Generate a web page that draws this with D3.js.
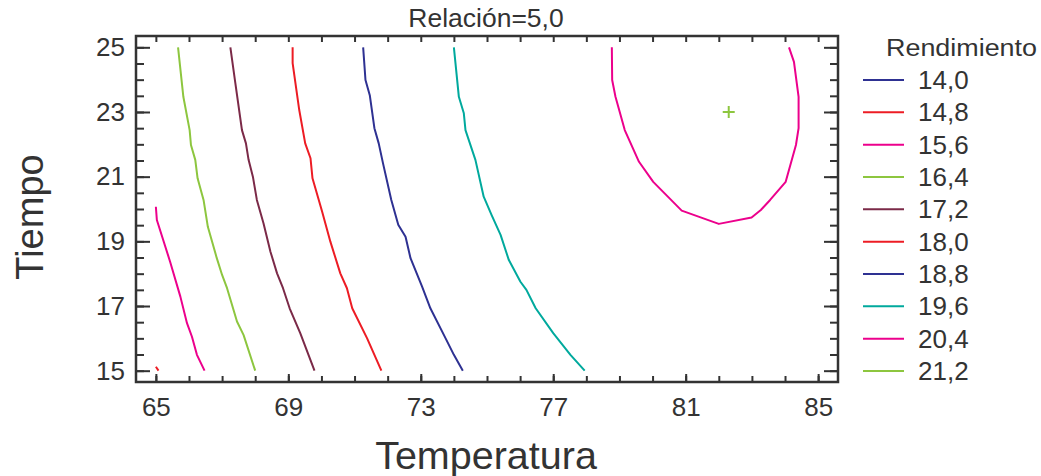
<!DOCTYPE html>
<html>
<head>
<meta charset="utf-8">
<script src="https://cdn.jsdelivr.net/npm/d3@7"></script>
<style>
  html, body { margin: 0; padding: 0; background: #fff; }
  svg { display: block; font-family: "Liberation Sans", Arial, Helvetica, sans-serif; }
</style>
</head>
<body>
<svg id="chart" width="1041" height="476"></svg>
<script>
// ---------- data ----------
const chartTitle = "Relación=5,0";
const xTitle = "Temperatura";
const yTitle = "Tiempo";
const legendTitle = "Rendimiento";

const levels = [14.0, 14.8, 15.6, 16.4, 17.2, 18.0, 18.8, 19.6, 20.4, 21.2];
const levelColors = ["#2e3192", "#ed1c24", "#ec008c", "#8dc63f", "#7b2a48",
                     "#ed1c24", "#2e3192", "#00a99d", "#ec008c", "#8dc63f"];

const xMajorTicks = [65, 69, 73, 77, 81, 85];
const yMajorTicks = [15, 17, 19, 21, 23, 25];

// contour lines (Temperatura, Tiempo)
const contour148 = [[65.0, 15.12], [65.08, 15.0]];
const contour156 = [[65.0, 20.07], [65.03, 19.66], [65.43, 18.37], [65.74, 17.29], [65.94, 16.47],
                    [66.09, 16.05], [66.24, 15.49], [66.47, 15.0]];
const contour164 = [[65.67, 25.0], [65.83, 23.47], [66.02, 22.44], [66.06, 21.98], [66.19, 21.52],
                    [66.26, 20.95], [66.44, 20.28], [66.57, 19.45], [66.84, 18.48], [67.0, 17.96],
                    [67.15, 17.55], [67.45, 16.52], [67.65, 16.10], [68.0, 15.0]];
const contour172 = [[67.25, 25.0], [67.40, 23.89], [67.60, 22.44], [67.72, 22.03], [67.80, 21.52],
                    [67.93, 21.0], [68.05, 20.28], [68.25, 19.56], [68.46, 18.68], [68.66, 18.01],
                    [68.84, 17.55], [69.04, 16.93], [69.36, 16.16], [69.79, 15.0]];
const contour180 = [[69.13, 25.0], [69.13, 24.51], [69.33, 23.06], [69.51, 22.03], [69.67, 21.57],
                    [69.73, 20.95], [69.92, 20.28], [70.02, 19.92], [70.27, 18.99], [70.57, 18.01],
                    [70.77, 17.55], [70.93, 16.93], [71.38, 16.0], [71.81, 15.0]];
const contour188 = [[71.26, 25.0], [71.33, 23.99], [71.46, 23.52], [71.60, 22.50], [71.73, 22.03],
                    [71.86, 21.41], [72.11, 20.28], [72.32, 19.51], [72.54, 19.14], [72.69, 18.48],
                    [73.04, 17.60], [73.29, 16.93], [73.75, 16.0], [74.0, 15.49], [74.27, 15.0]];
const contour196 = [[74.0, 25.0], [74.15, 23.47], [74.30, 22.96], [74.35, 22.44], [74.65, 21.52],
                    [74.90, 20.38], [75.14, 19.81], [75.41, 19.20], [75.66, 18.42], [76.01, 17.75],
                    [76.19, 17.50], [76.47, 16.93], [77.0, 16.16], [77.52, 15.49], [77.95, 15.0]];
const contour204 = [[78.77, 25.0], [78.78, 23.99], [78.88, 23.47], [79.16, 22.44], [79.59, 21.46],
                    [80.02, 20.84], [80.88, 19.95], [82.0, 19.54], [82.99, 19.74], [83.27, 19.97],
                    [83.55, 20.28], [84.02, 20.84], [84.33, 21.98], [84.41, 22.50], [84.41, 23.47],
                    [84.27, 24.55], [84.12, 25.0]];

const contours = [
  { level: 14.8, points: contour148 },
  { level: 15.6, points: contour156 },
  { level: 16.4, points: contour164 },
  { level: 17.2, points: contour172 },
  { level: 18.0, points: contour180 },
  { level: 18.8, points: contour188 },
  { level: 19.6, points: contour196 },
  { level: 20.4, points: contour204 }
];

const optimum = [82.3, 23.0];

// ---------- layout ----------
const svg = d3.select("#chart");
const plot = { left: 136, right: 838, top: 36, bottom: 382 };
const ink = "#333333";

const x = d3.scaleLinear().domain([64.4, 85.6]).range([plot.left, plot.right]);
const y = d3.scaleLinear().domain([14.65, 25.35]).range([plot.bottom, plot.top]);
const color = d3.scaleOrdinal().domain(levels).range(levelColors);

const esLocale = d3.formatLocale({ decimal: ",", thousands: ".", grouping: [3], currency: ["", " €"] });
const fmt1 = esLocale.format(".1f");

const xMinor = d3.range(65, 85.01, 1);
const yMinor = d3.range(15, 25.01, 0.5);

// clip
svg.append("defs").append("clipPath").attr("id", "clip")
  .append("rect").attr("x", plot.left).attr("y", plot.top)
  .attr("width", plot.right - plot.left).attr("height", plot.bottom - plot.top);

// contour lines
const line = d3.line().x(d => x(d[0])).y(d => y(d[1]));
svg.append("g").attr("clip-path", "url(#clip)")
  .selectAll("path").data(contours).join("path")
  .attr("d", d => line(d.points))
  .attr("fill", "none")
  .attr("stroke", d => color(d.level))
  .attr("stroke-width", 2)
  .attr("stroke-linejoin", "round");

// optimum marker
const mk = svg.append("g").attr("stroke", "#8dc63f").attr("stroke-width", 2);
mk.append("line").attr("x1", x(optimum[0]) - 6).attr("x2", x(optimum[0]) + 6)
  .attr("y1", y(optimum[1])).attr("y2", y(optimum[1]));
mk.append("line").attr("x1", x(optimum[0])).attr("x2", x(optimum[0]))
  .attr("y1", y(optimum[1]) - 6).attr("y2", y(optimum[1]) + 6);

// axes
function styleAxis(g) {
  g.select(".domain").remove();
  g.selectAll(".tick line").attr("stroke", ink).attr("stroke-width", 2);
  g.selectAll(".tick text").attr("fill", ink).attr("font-size", 26)
    .attr("font-family", "Liberation Sans, Arial, sans-serif");
}

svg.append("g").attr("transform", `translate(0,${plot.bottom})`)
  .call(d3.axisBottom(x).tickValues(xMinor).tickSize(-6).tickFormat(""))
  .call(styleAxis);
svg.append("g").attr("transform", `translate(0,${plot.bottom})`)
  .call(d3.axisBottom(x).tickValues(xMajorTicks).tickSize(-8).tickPadding(16).tickFormat(d3.format("d")))
  .call(styleAxis);
svg.append("g").attr("transform", `translate(0,${plot.top})`)
  .call(d3.axisTop(x).tickValues(xMinor).tickSize(-6).tickFormat(""))
  .call(styleAxis);

svg.append("g").attr("transform", `translate(${plot.left},0)`)
  .call(d3.axisLeft(y).tickValues(yMinor).tickSize(-8).tickFormat(""))
  .call(styleAxis);
svg.append("g").attr("transform", `translate(${plot.left},0)`)
  .call(d3.axisLeft(y).tickValues(yMajorTicks).tickSize(-14).tickPadding(11).tickFormat(d3.format("d")))
  .call(styleAxis);
svg.append("g").attr("transform", `translate(${plot.right},0)`)
  .call(d3.axisRight(y).tickValues(yMinor).tickSize(-8).tickFormat(""))
  .call(styleAxis);
svg.append("g").attr("transform", `translate(${plot.right},0)`)
  .call(d3.axisRight(y).tickValues(yMajorTicks).tickSize(-14).tickFormat(""))
  .call(styleAxis);

// frame
svg.append("rect").attr("x", plot.left).attr("y", plot.top)
  .attr("width", plot.right - plot.left).attr("height", plot.bottom - plot.top)
  .attr("fill", "none").attr("stroke", ink).attr("stroke-width", 2.5);

// titles
svg.append("text").attr("transform", "translate(486,27) scale(1.06,1)").attr("text-anchor", "middle")
  .attr("font-size", 25).attr("fill", ink).text(chartTitle);
svg.append("text").attr("x", 486).attr("y", 469).attr("text-anchor", "middle")
  .attr("font-size", 39.5).attr("fill", ink).text(xTitle);
svg.append("text").attr("transform", "translate(43,217) rotate(-90)").attr("text-anchor", "middle")
  .attr("font-size", 38).attr("fill", ink).text(yTitle);

// legend
const lg = svg.append("g");
lg.append("text").attr("transform", "translate(886,56) scale(1.17,1)")
  .attr("font-size", 23).attr("fill", ink).text(legendTitle);
const ly = d3.scalePoint().domain(levels).range([80, 371]);
const rows = lg.selectAll("g.row").data(levels).join("g").attr("class", "row")
  .attr("transform", d => `translate(0,${ly(d)})`);
rows.append("line").attr("x1", 863).attr("x2", 904).attr("y1", 0).attr("y2", 0)
  .attr("stroke", d => color(d)).attr("stroke-width", 2);
rows.append("text").attr("x", 918).attr("y", 0).attr("dy", "0.35em")
  .attr("font-size", 26).attr("fill", ink).text(d => fmt1(d));
</script>
</body>
</html>
